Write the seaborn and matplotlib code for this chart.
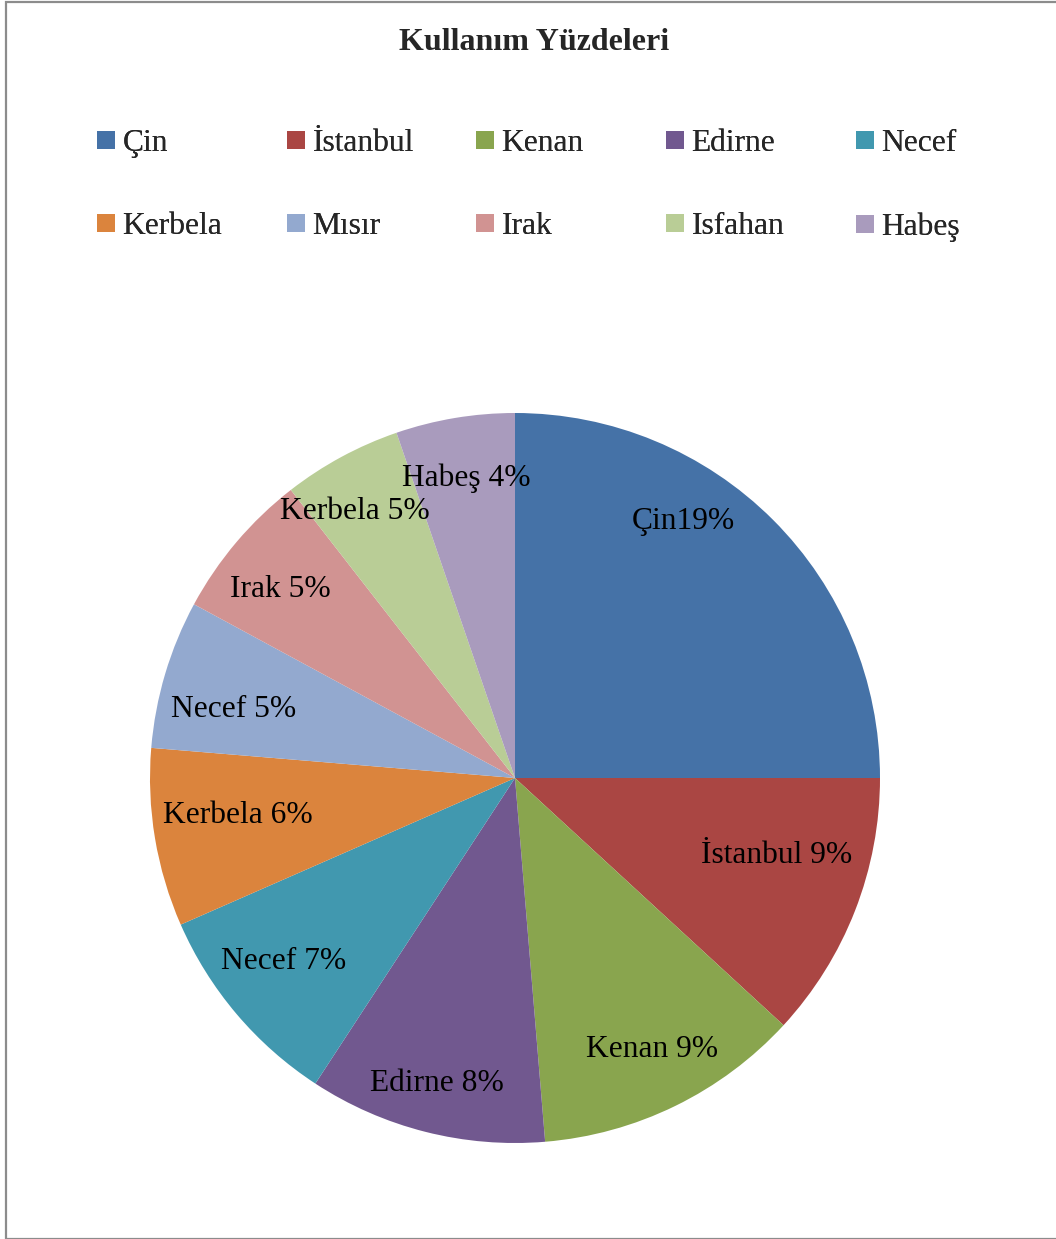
import matplotlib
matplotlib.use("Agg")
import matplotlib.pyplot as plt
from matplotlib.lines import Line2D
from matplotlib.patches import Rectangle
import seaborn as sns

# data
places = ["Çin", "İstanbul", "Kenan", "Edirne", "Necef",
          "Kerbela", "Mısır", "Irak", "Isfahan", "Habeş"]
counts = [19, 9, 9, 8, 7, 6, 5, 5, 4, 4]
# data labels as printed on the slices (they do not all match the legend)
slice_labels = ["Çin19%", "İstanbul 9%", "Kenan 9%", "Edirne 8%", "Necef 7%",
                "Kerbela 6%", "Necef 5%", "Irak 5%", "Kerbela 5%", "Habeş 4%"]
colors = ["#4572A7", "#AA4643", "#89A54E", "#71588F", "#4198AF",
          "#DB843D", "#93A9CF", "#D19392", "#B9CD96", "#A99BBD"]

# where each data label sits, in units of the pie radius
label_pos = [(0.460, 0.710), (0.718, -0.205), (0.375, -0.737), (-0.214, -0.830),
             (-0.633, -0.496), (-0.759, -0.096), (-0.770, 0.195), (-0.644, 0.523),
             (-0.438, 0.737), (-0.134, 0.827)]

sns.set_style("white")
plt.rcParams['font.family'] = ['Liberation Serif', 'DejaVu Serif']
pal = sns.color_palette(colors)

W, H = 1056, 1239
fig = plt.figure(figsize=(W / 100, H / 100), dpi=100)
cx, cy, R = 515, 778, 365
ax = fig.add_axes([(cx - R) / W, (H - cy - R) / H, 2 * R / W, 2 * R / H])

ax.pie(counts, colors=pal, startangle=90, counterclock=False, radius=1,
       wedgeprops=dict(linewidth=0))
ax.set_xlim(-1, 1)
ax.set_ylim(-1, 1)
ax.axis('off')

for txt, (x, y) in zip(slice_labels, label_pos):
    ax.text(x, y - 0.028, txt, ha='center', va='baseline', fontsize=22.7, color='black')

fig.text(534 / W, 1 - 43 / H, "Kullanım Yüzdeleri", ha='center', va='center',
         fontsize=23, fontweight='bold')

# legend: 5 columns, 2 rows, fixed pitch like the original
col_x = [98, 288, 477, 667, 857]
for c in range(5):
    idx = [c, c + 5]
    handles = [Line2D([], [], linestyle='none', marker='s', markersize=12.5,
                      markerfacecolor=pal[i], markeredgewidth=0) for i in idx]
    leg = fig.legend(handles, [places[i] for i in idx], loc='upper left',
                     bbox_to_anchor=(col_x[c] / W, 1 - 129 / H), frameon=False,
                     fontsize=22.7, borderpad=0, borderaxespad=0, handlelength=0.52,
                     handletextpad=0.26, labelspacing=1.72)
    fig.add_artist(leg)

fig.add_artist(Rectangle((6 / W, 0.5 / H), 1.2, 1 - 2 / H, transform=fig.transFigure,
                         fill=False, edgecolor='#8c8c8c', linewidth=1.6))

fig.savefig("out.png", dpi=100)
